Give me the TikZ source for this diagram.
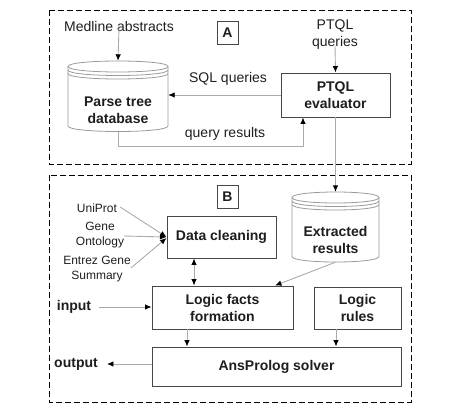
\documentclass[tikz,border=0pt]{standalone}
\usepackage{fontspec}
\setmainfont{Liberation Sans}
\usetikzlibrary{arrows.meta,calc}
\definecolor{boxc}{HTML}{474747}
\definecolor{linec}{HTML}{ABABAB}
\definecolor{cylc}{HTML}{9A9A9A}
\definecolor{txtc}{HTML}{1E1E1E}
\tikzset{
  box/.style={draw=boxc, line width=0.95pt, fill=white, text=txtc, font=\bfseries\fontsize{14}{17}\selectfont, align=center, inner sep=0pt},
  lbox/.style={draw=boxc, line width=0.95pt, text=txtc, font=\bfseries\fontsize{14}{17}\selectfont, inner sep=0pt, minimum width=21pt, minimum height=23pt},
  regtxt/.style={text=txtc, font=\fontsize{14}{17}\selectfont, align=center, inner sep=0pt},
  smalltxt/.style={text=txtc, font=\fontsize{12}{14.5}\selectfont, align=center, inner sep=0pt},
  boldtxt/.style={text=txtc, font=\bfseries\fontsize{14}{17}\selectfont, align=center, inner sep=0pt},
  region/.style={draw=black, line width=0.85pt, dash pattern=on 6pt off 3pt},
  conn/.style={draw=linec, line width=0.9pt},
  arr/.style={conn, -{Latex[length=6.5pt,width=5.5pt,color=black]}},
  darr/.style={conn, {Latex[length=6.5pt,width=5.5pt,color=black]}-{Latex[length=6.5pt,width=5.5pt,color=black]}},
  cyl/.style={draw=cylc, line width=0.8pt},
  hold/.style={draw=none, inner sep=0pt}
}
\begin{document}
\begin{tikzpicture}[x=1pt,y=-1pt]
\useasboundingbox (0,0) rectangle (462,413);
% regions
\draw[region] (49,10) rectangle (411,164);
\draw[region] (49,175) rectangle (411,402);
\node[lbox] (la) at (227.5,32.5) {A};
\node[lbox] (lb) at (227.5,196.5) {B};

% Parse tree database cylinder
\draw[cyl, fill=white] (68,66.5) -- (68,126) .. controls (68,133.33) and (168,133.33) .. (168,126) -- (168,66.5);
\draw[cyl] (68,66.5) .. controls (68,59.17) and (168,59.17) .. (168,66.5) .. controls (168,73.83) and (68,73.83) .. (68,66.5);
\draw[cyl] (68,70) .. controls (68,77.33) and (168,77.33) .. (168,70);
\draw[cyl] (68,73.5) .. controls (68,80.83) and (168,80.83) .. (168,73.5);
\node[hold, minimum width=100pt, minimum height=71pt] (ptdb) at (118,96.5) {};
\node[boldtxt] (ptdbt) at (118,110) {Parse tree\\database};

% Extracted results cylinder
\draw[cyl, fill=white] (292,197.5) -- (292,256.5) .. controls (292,263.83) and (379,263.83) .. (379,256.5) -- (379,197.5);
\draw[cyl] (292,197.5) .. controls (292,190.17) and (379,190.17) .. (379,197.5) .. controls (379,204.83) and (292,204.83) .. (292,197.5);
\draw[cyl] (292,201) .. controls (292,208.33) and (379,208.33) .. (379,201);
\draw[cyl] (292,204.5) .. controls (292,211.83) and (379,211.83) .. (379,204.5);
\node[hold, minimum width=87pt, minimum height=70pt] (ext) at (335.5,227) {};
\node[boldtxt] (extt) at (335.5,239.5) {Extracted\\results};

% texts
\node[regtxt] (med) at (119,26) {Medline abstracts};
\node[regtxt] (ptq) at (335,34.5) {PTQL\\queries};
\node[regtxt] (sqlt) at (228,79) {SQL queries};
\node[regtxt] (qrt) at (225,134) {query results};
\node[smalltxt] (uni) at (97,208) {UniProt};
\node[smalltxt] (go) at (100,235) {Gene\\Ontology};
\node[smalltxt] (ez) at (97,269) {Entrez Gene\\Summary};
\node[boldtxt] (inp) at (74,307) {input};
\node[boldtxt] (outp) at (76,364) {output};

% boxes
\node[box, minimum width=109pt, minimum height=44pt] (eval) at (335.5,95) {PTQL\\evaluator};
\node[box, minimum width=109pt, minimum height=42pt] (dc) at (221.5,237) {Data cleaning};
\node[box, minimum width=141pt, minimum height=43pt] (lf) at (222.5,307.5) {Logic facts\\formation};
\node[box, minimum width=87pt, minimum height=42pt] (lr) at (357.5,308) {Logic\\rules};
\node[box, minimum width=249pt, minimum height=39pt] (ans) at (276.5,366.5) {AnsProlog solver};

% connectors
\draw[arr] (med.south) ++(0,4pt) -- (ptdb.north);
\draw[arr] (ptq.south) ++(0,4pt) -- (eval.north);
\draw[arr] (eval.west) -- (eval.west -| ptdb.east);
\draw[arr] (ptdb.south) |- (303,146) -- ([xshift=-32.5pt]eval.south);
\draw[arr] (eval.south) -- (ext.north);
\draw[arr] (uni.east) ++(3pt,1pt) -- (dc.west);
\draw[arr] (go.east) ++(0,-1pt) -- (dc.west);
\draw[arr] (ez.east) ++(0,1pt) -- ([yshift=-1pt]dc.west);
\draw[darr] ([xshift=-27.5pt]dc.south) -- ([xshift=-28.5pt]lf.north);
\draw[arr] (ext.south) -- ([xshift=52.5pt]lf.north);
\draw[arr] ([xshift=-35.5pt]lf.south) -- ([xshift=-35.5pt]lf.south |- ans.north);
\draw[arr] ([xshift=-21.5pt]lr.south) -- ([xshift=-21.5pt]lr.south |- ans.north);
\draw[arr] (inp.east) ++(8pt,0) -- (inp.east -| lf.west);
\draw[arr] (ans.west |- outp.east) -- ([xshift=9pt]outp.east);
\end{tikzpicture}
\end{document}
